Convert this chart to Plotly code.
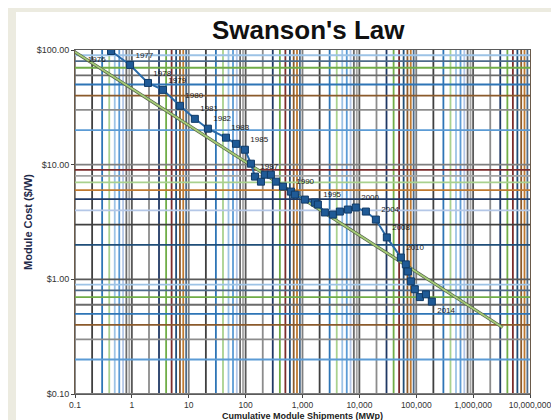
import plotly.graph_objects as go

# ---------------- data ----------------
shipments_mw = [0.43, 0.93, 1.92, 3.52, 7.0, 12.8, 21.7, 45.1, 67.6, 97.2,
                124, 146, 186, 218, 278, 341, 453, 625, 735, 1101,
                1651, 1865, 2476, 3421, 4540, 6280, 8670, 13000, 19500, 30400,
                53600, 65600, 71100, 80400, 94400, 116000, 148000, 188000]
module_cost = [98.0, 74.1, 51.6, 44.9, 32.6, 25.1, 20.6, 17.2, 15.2, 13.5,
               10.2, 7.87, 7.11, 8.18, 8.18, 7.11, 6.44, 5.82, 5.48, 4.96,
               4.67, 4.49, 3.83, 3.67, 3.90, 4.06, 4.23, 3.90, 3.32, 2.32,
               1.55, 1.35, 1.17, 0.96, 0.82, 0.70, 0.74, 0.64]
point_labels = ["1976", "1977", "1978", "1979", "1980", "1981", "1982", "1983", "", "1985",
                "", "1987", "", "", "", "", "", "1990", "", "",
                "", "1995", "", "", "", "", "2000", "", "2004", "2008",
                "2010", "", "", "", "", "", "", "2014"]
trend_mw = [0.1, 3.3e6]
trend_cost = [96.0, 0.38]

x_tick_vals = [0.1, 1, 10, 100, 1e3, 1e4, 1e5, 1e6, 1e7]
x_tick_text = ["0.1", "1", "10", "100", "1,000", "10,000", "100,000", "1,000,000", "10,000,000"]
y_tick_vals = [0.1, 1, 10, 100]
y_tick_text = ["$0.10", "$1.00", "$10.00", "$100.00"]

# ---------------- style ----------------
FONT = "Liberation Sans, Arial, sans-serif"
grid_palette = ["#7f7f7f", "#1f3864", "#9dc3e6", "#8b5a2b", "#a5a5a5", "#404040",
                "#70ad47", "#5b9bd5", "#c07a30", "#595959", "#2e75b6", "#7b2c2c",
                "#b4c7e7", "#4d6b8a", "#8c8c8c", "#a9d18e", "#1f4e79", "#6b6b6b"]

label_pos = []
for i, t in enumerate(point_labels):
    if i == 0:
        label_pos.append("bottom left")
    elif i == len(point_labels) - 1:
        label_pos.append("bottom right")
    else:
        label_pos.append("top right")

fig = go.Figure()

# trend line (dark edge + light green core)
fig.add_trace(go.Scatter(x=trend_mw, y=trend_cost, mode="lines",
                         line=dict(color="#55634a", width=3.2), hoverinfo="skip",
                         showlegend=False))
fig.add_trace(go.Scatter(x=trend_mw, y=trend_cost, mode="lines",
                         line=dict(color="#a6cc78", width=1.8), hoverinfo="skip",
                         showlegend=False))

# data series
fig.add_trace(go.Scatter(x=shipments_mw, y=module_cost, mode="lines+markers+text",
                         line=dict(color="#2a6aa8", width=2),
                         marker=dict(symbol="square", size=7, color="#1f5a96",
                                     line=dict(color="#103a66", width=1)),
                         text=point_labels, textposition=label_pos,
                         textfont=dict(family=FONT, size=8, color="#1a1a1a"),
                         showlegend=False))

# multicoloured log grid (data coordinates on the log axes)
shapes = []
ci = 0
for n in range(-1, 7):
    for k in range(1, 10):
        v = k * 10.0 ** n
        shapes.append(dict(type="line", xref="x", yref="paper", x0=v, x1=v, y0=0, y1=1,
                           line=dict(color=grid_palette[ci % len(grid_palette)], width=1.8),
                           layer="below"))
        ci += 5
for n in range(-1, 2):
    for k in range(1, 10):
        v = k * 10.0 ** n
        shapes.append(dict(type="line", xref="paper", yref="y", x0=0, x1=1, y0=v, y1=v,
                           line=dict(color=grid_palette[ci % len(grid_palette)], width=1.8),
                           layer="below"))
        ci += 7

# beige strips of the slide background (plot area: 67..522 px wide, 42..386 px tall)
PW, PH = 455.0, 344.0
shapes.append(dict(type="rect", xref="paper", yref="paper", x0=-70 / PW, x1=-59 / PW,
                   y0=-40 / PH, y1=1 + 45 / PH, fillcolor="#ecebe0", line=dict(width=0),
                   layer="below"))
shapes.append(dict(type="rect", xref="paper", yref="paper", x0=-70 / PW, x1=1 + 40 / PW,
                   y0=1 + 38 / PH, y1=1 + 45 / PH, fillcolor="#ecebe0", line=dict(width=0),
                   layer="below"))

annotations = [
    dict(text="<b>Cumulative Module Shipments (MWp)</b>", xref="paper", yref="paper",
         x=0.5, y=-22 / PH, xanchor="center", yanchor="middle", showarrow=False,
         font=dict(family=FONT, size=9, color="#222")),
    dict(text="<b>Module Cost ($/W)</b>", xref="paper", yref="paper",
         x=-47 / PW, y=0.5, xanchor="center", yanchor="middle", showarrow=False,
         textangle=-90, font=dict(family=FONT, size=11, color="#1f2a4a")),
]

fig.update_layout(
    width=559, height=420,
    margin=dict(l=67, r=37, t=42, b=34),
    paper_bgcolor="white", plot_bgcolor="white",
    font=dict(family=FONT, size=9, color="#222"),
    title=dict(text="<b>Swanson's Law</b>", x=0.537, xref="container", xanchor="center",
               y=0.947, yanchor="middle",
               font=dict(family=FONT, size=26, color="#111")),
    shapes=shapes,
    annotations=annotations,
    showlegend=False,
)
fig.update_xaxes(type="log", range=[-1, 7], tickvals=x_tick_vals, ticktext=x_tick_text,
                 showgrid=False, zeroline=False, showline=True, linecolor="#5a5a5a",
                 linewidth=1, mirror=True, ticks="outside", ticklen=3, tickcolor="#444",
                 tickfont=dict(family=FONT, size=8.5, color="#333"),
                 automargin=False)
fig.update_yaxes(type="log", range=[-1, 2], tickvals=y_tick_vals, ticktext=y_tick_text,
                 showgrid=False, zeroline=False, showline=True, linecolor="#6a5a4a",
                 linewidth=1, mirror=True, ticks="outside", ticklen=3, tickcolor="#444",
                 tickfont=dict(family=FONT, size=9, color="#333"),
                 automargin=False)

fig.write_html("out.html")
